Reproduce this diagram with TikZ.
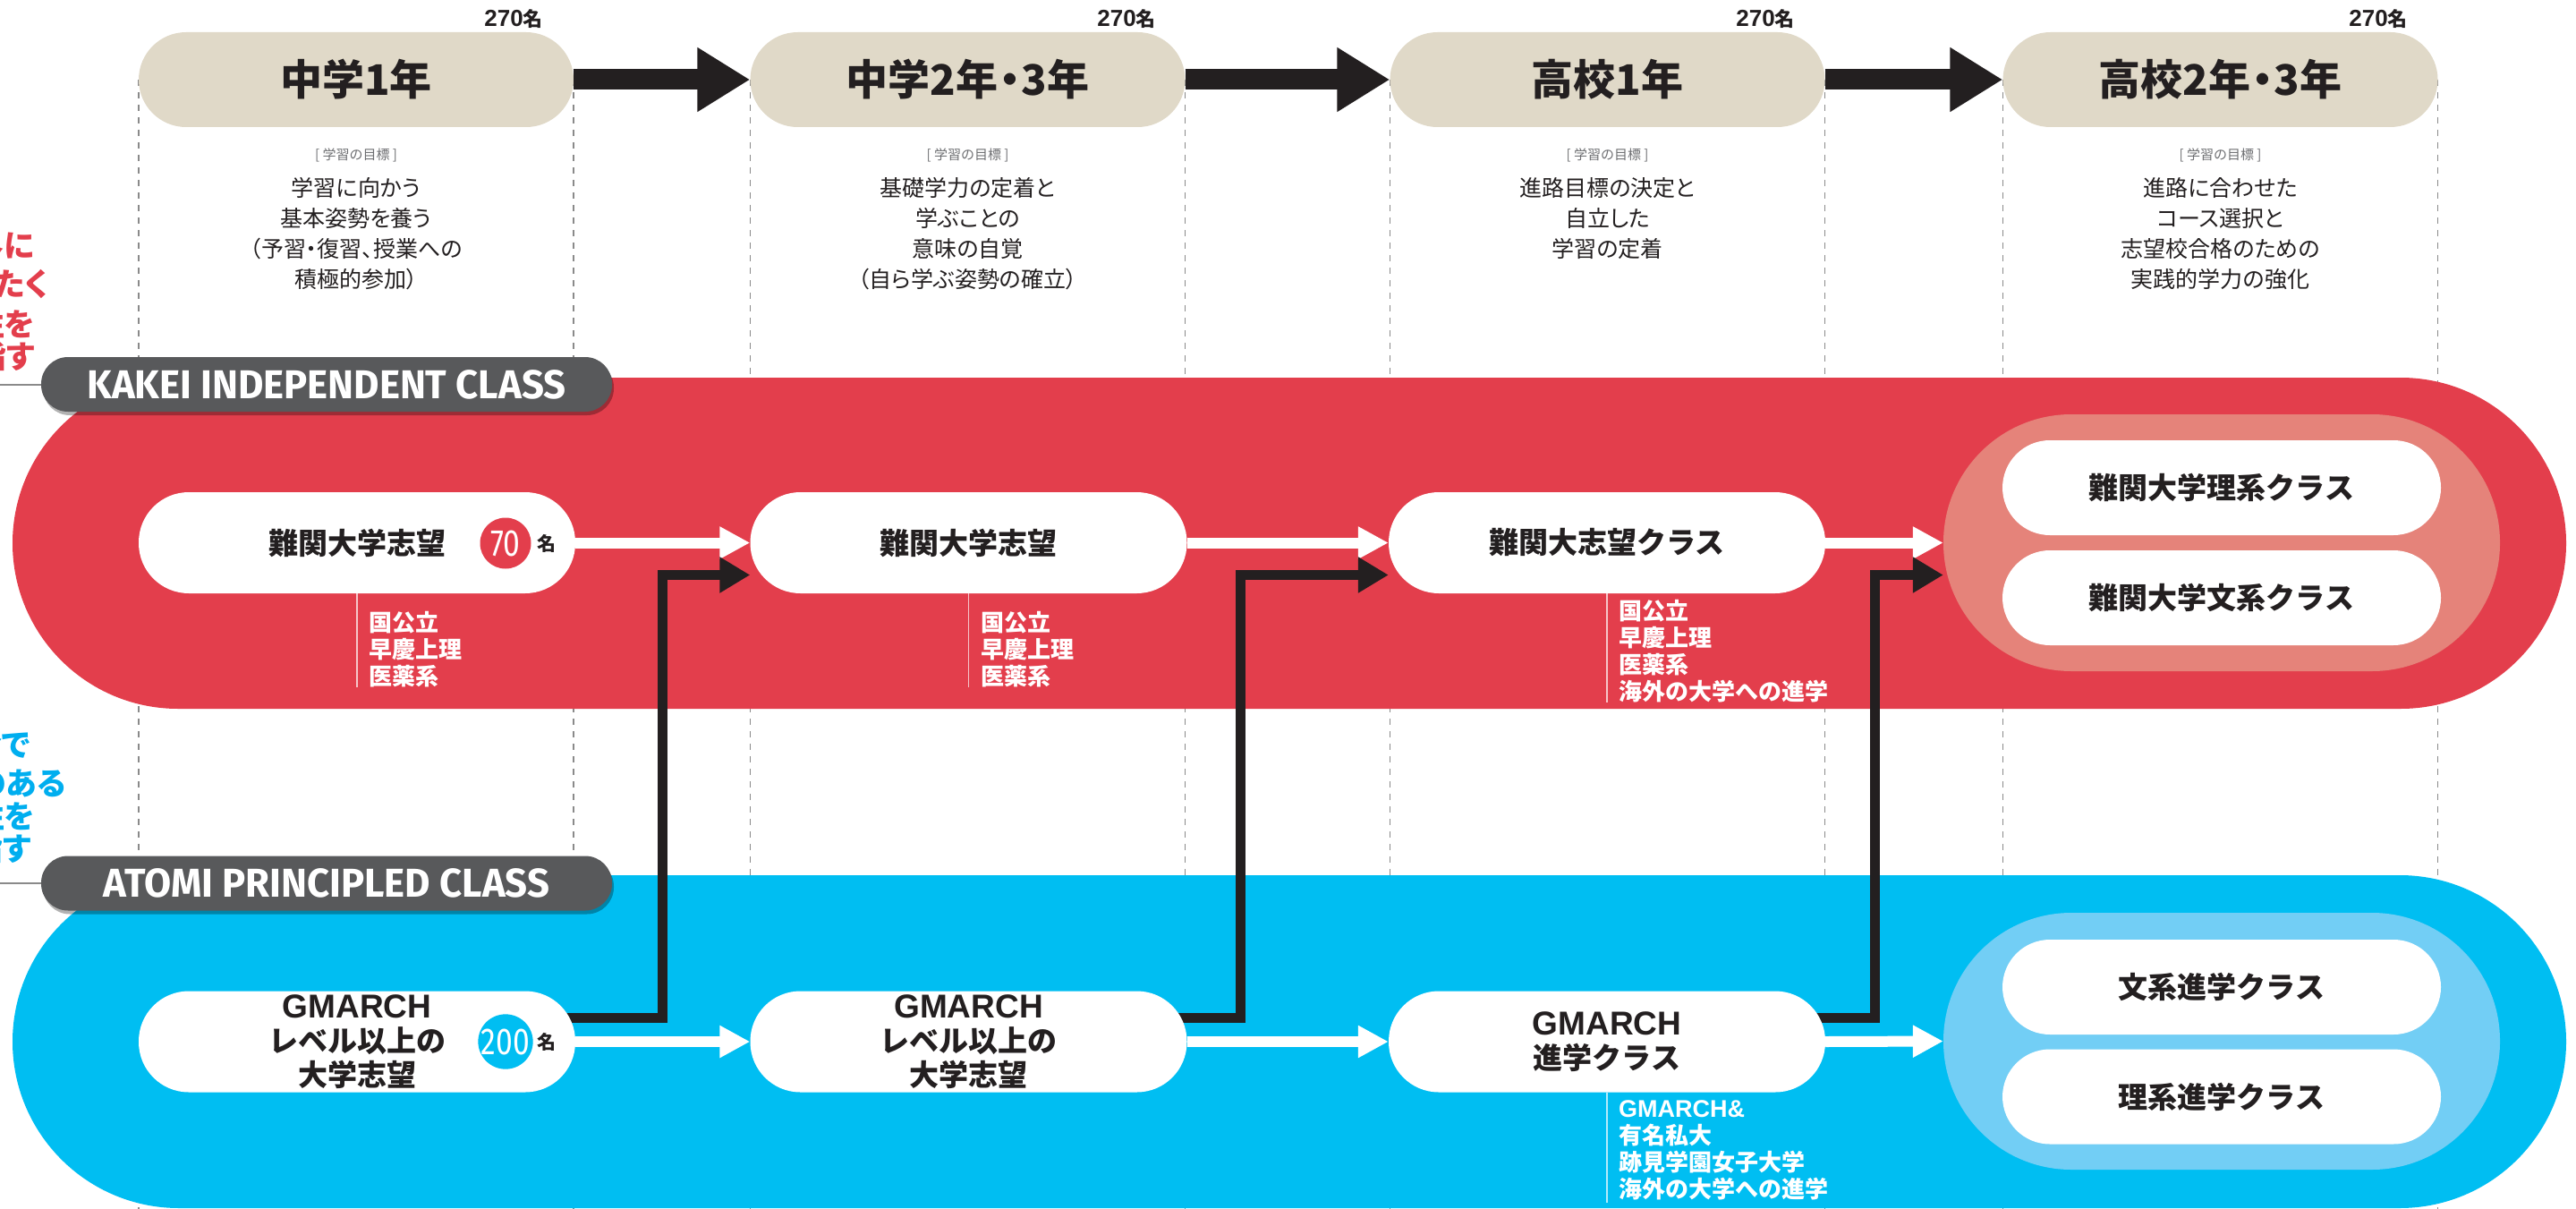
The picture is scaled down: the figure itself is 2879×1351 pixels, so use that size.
\documentclass[tikz,border=0pt]{standalone}
\usepackage{fontspec}
\setmainfont{Noto Sans CJK JP}
\newfontfamily\jp{Noto Sans CJK JP}
\newfontfamily\jpg{Noto Sans CJK JP}[RawFeature=+palt]
\newfontfamily\lat{Liberation Sans}
\newfontfamily\lab{Fira Sans}[FakeStretch=0.97]
\newfontfamily\numf{Fira Sans}[FakeStretch=0.8]
\usetikzlibrary{arrows.meta,shadows}
\pgfdeclarelayer{dash}
\pgfdeclarelayer{bg}
\pgfdeclarelayer{mid}
\pgfsetlayers{dash,bg,mid,main}
\definecolor{beige}{HTML}{E0D9C8}
\definecolor{dark}{HTML}{231F20}
\definecolor{redc}{HTML}{E33E4C}
\definecolor{salmon}{HTML}{E5837A}
\definecolor{bluec}{HTML}{00BEF2}
\definecolor{lblue}{HTML}{72CEF5}
\definecolor{lblgray}{HTML}{58595B}
\definecolor{dashgray}{HTML}{8A8A8A}
\definecolor{gtxt}{HTML}{6D6E71}
\definecolor{sidetxt}{HTML}{00AEEF}
\begin{document}
\begin{tikzpicture}[x=1pt,y=-1pt,
 hdr/.style={fill=beige, rounded corners=53pt, minimum width=486pt, minimum height=106pt, inner sep=0pt, text=dark, font=\jp\bfseries\fontsize{47}{56}\selectfont},
 pill/.style={fill=white, rounded corners=56pt, minimum width=488pt, minimum height=113pt, inner sep=0pt, text=dark, align=center, font=\jp\bfseries\fontsize{33}{38}\selectfont},
 spill/.style={pill, minimum width=490pt, minimum height=106pt, rounded corners=53pt},
 cont/.style={rounded corners=143pt, minimum width=622pt, minimum height=287pt, inner sep=0pt},
 band/.style={rounded corners=185pt, minimum width=2854pt, minimum height=370pt, inner sep=0pt},
 goal/.style={align=center, text=dark, inner sep=0pt, anchor=north, font=\jpg\fontsize{25}{34}\selectfont},
 goalhd/.style={text=gtxt, inner sep=0pt, font=\jp\fontsize{15}{15}\selectfont},
 cnt/.style={anchor=east, inner sep=0pt, text=dark},
 lbl/.style={fill=lblgray, rounded corners=30pt, minimum width=638pt, minimum height=61pt, inner sep=0pt, text=white, font=\lab\bfseries\fontsize{45}{45}\selectfont, drop shadow={fill=black, opacity=0.3, shadow xshift=2pt, shadow yshift=-4pt}},
 sub/.style={anchor=north west, align=left, inner sep=0pt, text=white, font=\jp\bfseries\fontsize{26}{30}\selectfont},
 subln/.style={white, opacity=0.7, line width=1.5pt},
 warrow/.style={white, line width=12pt, -{Triangle[length=34pt,width=34pt]}},
 harrow/.style={dark, line width=23pt, -{Triangle[length=59pt,width=68pt]}},
 barrow/.style={dark, line width=11pt, line join=miter, -{Triangle[length=34pt,width=38pt]}},
 dashln/.style={dashgray, line width=1.5pt, dash pattern=on 7pt off 7pt},
 side/.style={anchor=east, inner sep=0pt, font=\jpg\bfseries\fontsize{35}{35}\selectfont},
 num/.style={circle, minimum size=57pt, inner sep=0pt, text=white, font=\numf\fontsize{42}{42}\selectfont},
 mei/.style={inner sep=0pt, text=dark, font=\jp\bfseries\fontsize{21}{21}\selectfont},
 gline/.style={dashgray, line width=2pt}
]
\useasboundingbox (0,0) rectangle (2879,1351);

% header pills
\node[hdr] (h1) at (398,89) {中学1年};
\node[hdr] (h2) at (1081.5,89) {中学2年\kern-.22em・\kern-.22em3年};
\node[hdr] (h3) at (1796.5,89) {高校1年};
\node[hdr] (h4) at (2481.5,89) {高校2年\kern-.22em・\kern-.22em3年};

\node[cnt] (c1) at (607,21) {{\lat\bfseries\fontsize{26}{26}\selectfont 270}{\jp\bfseries\fontsize{22}{22}\selectfont 名}};
\node[cnt] (c2) at (1292,21) {{\lat\bfseries\fontsize{26}{26}\selectfont 270}{\jp\bfseries\fontsize{22}{22}\selectfont 名}};
\node[cnt] (c3) at (2006,21) {{\lat\bfseries\fontsize{26}{26}\selectfont 270}{\jp\bfseries\fontsize{22}{22}\selectfont 名}};
\node[cnt] (c4) at (2691,21) {{\lat\bfseries\fontsize{26}{26}\selectfont 270}{\jp\bfseries\fontsize{22}{22}\selectfont 名}};

% goals
\node[goalhd] (gh1) at (398,173) {[ 学習の目標 ]};
\node[goalhd] (gh2) at (1081.5,173) {[ 学習の目標 ]};
\node[goalhd] (gh3) at (1796.5,173) {[ 学習の目標 ]};
\node[goalhd] (gh4) at (2481.5,173) {[ 学習の目標 ]};
\node[goal] (g1) at (398,198) {学習に向かう\\基本姿勢を養う\\（予習・復習、授業への\\積極的参加）};
\node[goal] (g2) at (1081.5,198) {基礎学力の定着と\\学ぶことの\\意味の自覚\\（自ら学ぶ姿勢の確立）};
\node[goal] (g3) at (1796.5,198) {進路目標の決定と\\自立した\\学習の定着};
\node[goal] (g4) at (2481.5,198) {進路に合わせた\\コース選択と\\志望校合格のための\\実践的学力の強化};

% left side texts (cut by the page edge, as in the reference)
\node[side, text=redc] (kt1) at (39,275) {世界に};
\node[side, text=redc] (kt2) at (54,317) {羽ばたく};
\node[side, text=redc] (kt3) at (39,362) {女性を};
\node[side, text=redc] (kt4) at (39,398) {目指す};
\node[side, text=sidetxt] (at1) at (34,832) {社会で};
\node[side, text=sidetxt] (at2) at (74,875) {存在感のある};
\node[side, text=sidetxt] (at3) at (39,912) {女性を};
\node[side, text=sidetxt] (at4) at (35,948) {目指す};

% bands
\begin{pgfonlayer}{bg}
\node[band, fill=redc] (kband) at (1441,607) {};
\node[band, fill=bluec, minimum height=372pt, rounded corners=186pt] (aband) at (1441,1164) {};
\end{pgfonlayer}

% class labels
\coordinate (kl0) at (0,429.5);
\coordinate (al0) at (0,987);
\draw[gline] (kl0) -- (46,429.5);
\draw[gline] (al0) -- (46,987);
\node[lbl] (kl) at (365,429.5) {KAKEI INDEPENDENT CLASS};
\node[lbl] (al) at (365,987) {ATOMI PRINCIPLED CLASS};

% red row
\node[pill] (r1) at (399,606.5) {難関大学志望};
\node[pill] (r2) at (1082.5,606.5) {難関大学志望};
\node[pill] (r3) at (1796,606.5) {難関大志望クラス};
\node[cont, fill=salmon] (rc) at (2483,606.5) {};
\node[spill] (r4a) at (2483,545) {難関大学理系クラス};
\node[spill] (r4b) at (2483,668) {難関大学文系クラス};
\node[num, fill=redc] (n70) at (565,607) {70};
\node[mei] (m70) at (611,607) {名};

% blue row
\node[pill] (b1) at (399,1164) {{\lat\bfseries\fontsize{37}{38}\selectfont GMARCH}\\レベル以上の\\大学志望};
\node[pill] (b2) at (1082.5,1164) {{\lat\bfseries\fontsize{37}{38}\selectfont GMARCH}\\レベル以上の\\大学志望};
\node[pill] (b3) at (1796,1164) {{\lat\bfseries\fontsize{37}{38}\selectfont GMARCH}\\進学クラス};
\node[cont, fill=lblue] (bc) at (2483,1163.5) {};
\node[spill] (b4a) at (2483,1103) {文系進学クラス};
\node[spill] (b4b) at (2483,1225.5) {理系進学クラス};
\node[num, fill=bluec] (n200) at (565,1164) {200};
\node[mei] (m200) at (611,1164) {名};

% sub lists
\draw[subln] (r1.south) -- ++(0,105);
\node[sub] (s1) at (412,683) {国公立\\早慶上理\\医薬系};
\draw[subln] (r2.south) -- ++(0,105);
\node[sub] (s2) at (1096,683) {国公立\\早慶上理\\医薬系};
\draw[subln] (r3.south) -- ++(0,122);
\node[sub] (s3) at (1809,670) {国公立\\早慶上理\\医薬系\\海外の大学への進学};
\draw[subln] (b3.south) -- ++(0,123);
\node[sub] (s4) at (1809,1229) {{\lat\bfseries\fontsize{27}{30}\selectfont GMARCH\&}\\有名私大\\跡見学園女子大学\\海外の大学への進学};

% dashed column guides
\begin{pgfonlayer}{dash}
\foreach \h in {h1,h2,h3,h4}{
  \draw[dashln] (\h.west) -- (\h.west |- 0,1351);
  \draw[dashln] (\h.east) -- (\h.east |- 0,1351);
}
\end{pgfonlayer}

% connectors
\begin{pgfonlayer}{mid}
\draw[harrow] (h1.east) -- (h2.west);
\draw[harrow] (h2.east) -- (h3.west);
\draw[harrow] (h3.east) -- (h4.west);
\draw[warrow] (r1.east) -- (r2.west);
\draw[warrow] (r2.east) -- (r3.west);
\draw[warrow] (r3.east) -- (rc.west);
\draw[warrow] (b1.east) -- (b2.west);
\draw[warrow] (b2.east) -- (b3.west);
\draw[warrow] (b3.east) -- (bc.west);
\draw[barrow] ([xshift=-10pt,yshift=27pt]b1.east) -- ++(107,0) |- ([yshift=-36pt]r2.west);
\draw[barrow] ([xshift=-10pt,yshift=27pt]b2.east) -- ++(70,0) |- ([yshift=-36pt]r3.west);
\draw[barrow] ([xshift=-10pt,yshift=27pt]b3.east) -- ++(65,0) |- ([yshift=-36pt]rc.west);
\end{pgfonlayer}
\end{tikzpicture}
\end{document}
